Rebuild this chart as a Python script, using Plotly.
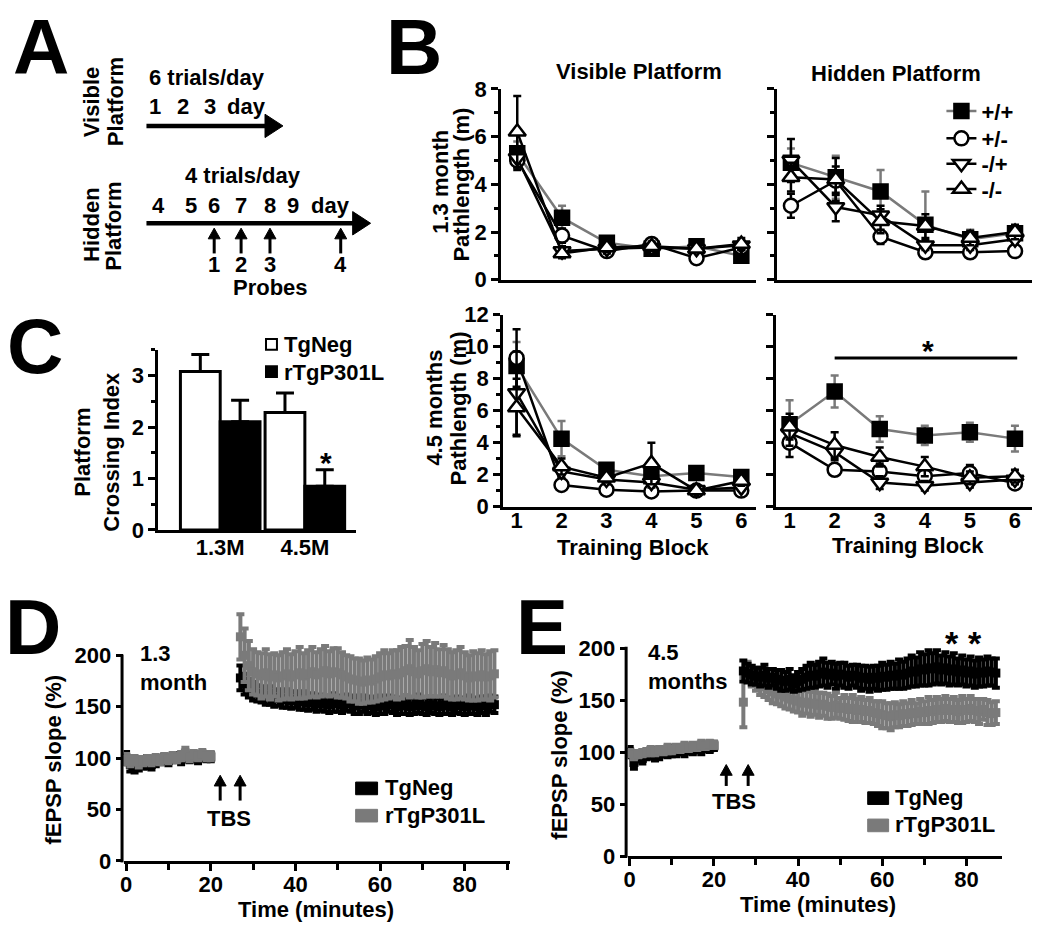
import plotly.graph_objects as go

W, H = 1050, 945
def fx(p): return p / W
def fy(p): return 1 - p / H

FONT = "Liberation Sans, Arial, Helvetica, sans-serif"
GRAY = "#7a7a7a"
BLACK = "#000000"

# ---------------- data ----------------
BLOCKS = [1, 2, 3, 4, 5, 6]
BLOCK_LABELS = ["1", "2", "3", "4", "5", "6"]
GENOTYPES = ["+/+", "+/-", "-/+", "-/-"]

VIS13_PP = [5.3, 2.6, 1.55, 1.3, 1.4, 1.0]
VIS13_PM = [5.0, 1.85, 1.2, 1.5, 0.9, 1.35]
VIS13_MP = [5.1, 1.2, 1.3, 1.35, 1.3, 1.45]
VIS13_MM = [6.2, 1.1, 1.35, 1.4, 1.3, 1.5]
VIS13_PP_ERR = [0.5, 0.5, 0.2, 0.2, 0.15, 0.2]
VIS13_PM_ERR = [0.4, 0.3, 0.15, 0.2, 0.1, 0.15]
VIS13_MP_ERR = [0.4, 0.2, 0.2, 0.2, 0.15, 0.2]
VIS13_MM_ERR = [1.5, 0.2, 0.2, 0.2, 0.15, 0.25]

HID13_PP = [4.9, 4.3, 3.7, 2.3, 1.7, 1.95]
HID13_PM = [3.1, 4.15, 1.8, 1.15, 1.15, 1.2]
HID13_MP = [5.0, 3.05, 2.7, 1.45, 1.45, 1.7]
HID13_MM = [4.3, 4.2, 2.45, 2.25, 1.75, 2.0]
HID13_PP_ERR = [0.6, 0.9, 0.9, 1.4, 0.4, 0.3]
HID13_PM_ERR = [0.5, 0.6, 0.3, 0.15, 0.15, 0.15]
HID13_MP_ERR = [0.9, 0.6, 0.4, 0.2, 0.2, 0.2]
HID13_MM_ERR = [0.6, 0.9, 0.5, 0.5, 0.3, 0.3]

VIS45_PP = [8.8, 4.25, 2.3, 1.9, 2.1, 1.85]
VIS45_PM = [9.3, 1.35, 1.05, 0.95, 1.0, 1.0]
VIS45_MP = [7.1, 2.2, 1.7, 1.5, 1.05, 1.2]
VIS45_MM = [6.2, 2.5, 1.8, 2.7, 1.0, 1.6]
VIS45_PP_ERR = [1.5, 1.1, 0.4, 0.4, 0.3, 0.3]
VIS45_PM_ERR = [1.8, 0.2, 0.15, 0.15, 0.15, 0.15]
VIS45_MP_ERR = [2.6, 0.4, 0.3, 0.3, 0.2, 0.2]
VIS45_MM_ERR = [1.8, 0.5, 0.3, 1.3, 0.2, 0.3]

HID45_PP = [5.15, 7.2, 4.85, 4.45, 4.65, 4.25]
HID45_PM = [4.0, 2.3, 2.2, 1.9, 2.1, 1.45]
HID45_MP = [4.6, 3.4, 1.5, 1.3, 1.5, 1.7]
HID45_MM = [5.0, 3.85, 3.1, 2.5, 1.8, 1.9]
HID45_PP_ERR = [1.5, 1.0, 0.8, 0.6, 0.6, 0.8]
HID45_PM_ERR = [0.9, 0.3, 0.5, 0.5, 0.5, 0.3]
HID45_MP_ERR = [0.8, 0.5, 0.4, 0.3, 0.3, 0.3]
HID45_MM_ERR = [0.8, 0.8, 0.6, 0.6, 0.4, 0.4]

AGES = ["1.3M", "4.5M"]
C_TGNEG = [3.08, 2.28]
C_TGNEG_ERR = [0.33, 0.38]
C_RTG = [2.1, 0.85]
C_RTG_ERR = [0.42, 0.32]

BASE_T = [0, 1, 2, 3, 4, 5, 6, 7, 8, 9, 10, 11, 12, 13, 14, 15, 16, 17, 18, 19, 20]
POST_T = [27, 28, 29, 30, 31, 32, 33, 34, 35, 36,
          37, 38, 39, 40, 41, 42, 43, 44, 45, 46,
          47, 48, 49, 50, 51, 52, 53, 54, 55, 56,
          57, 58, 59, 60, 61, 62, 63, 64, 65, 66,
          67, 68, 69, 70, 71, 72, 73, 74, 75, 76,
          77, 78, 79, 80, 81, 82, 83, 84, 85, 86, 87]

D_TGNEG_BASE = [100, 94, 92, 93, 95, 96, 94, 97, 98, 99, 98, 100, 101, 99, 102, 100, 101, 100, 102, 101, 101]
D_TGNEG_BASE_ERR = [6, 7, 6, 5, 5, 6, 5, 5, 4, 4, 5, 4, 4, 5, 4, 4, 4, 5, 4, 4, 4]
D_RTG_BASE = [99, 97, 98, 96, 97, 98, 97, 99, 98, 100, 99, 101, 100, 102, 105, 101, 103, 102, 104, 102, 102]
D_RTG_BASE_ERR = [5, 5, 4, 5, 4, 4, 4, 4, 4, 4, 4, 4, 4, 4, 5, 4, 4, 4, 4, 4, 4]

D_TGNEG_POST = [178, 172, 168, 165, 163, 162, 160, 161, 158, 159,
                157, 158, 156, 157, 155, 156, 154, 155, 153, 154,
                153, 152, 154, 153, 152, 154, 153, 151, 152, 153,
                151, 152, 150, 152, 151, 153, 152, 150, 151, 152,
                150, 151, 153, 151, 150, 152, 151, 150, 152, 151,
                150, 152, 151, 150, 152, 151, 150, 152, 151, 153, 152]
D_TGNEG_POST_ERR = [12, 10, 9, 9, 8, 8, 8, 9, 8, 8,
                    8, 9, 8, 8, 8, 9, 8, 8, 8, 8,
                    8, 8, 9, 8, 8, 8, 8, 8, 9, 8,
                    8, 8, 8, 9, 8, 8, 8, 8, 8, 9,
                    8, 8, 9, 8, 8, 8, 8, 8, 9, 8,
                    8, 8, 8, 8, 9, 8, 8, 8, 9, 8, 8]
D_RTG_POST = [218, 200, 190, 184, 182, 180, 183, 179, 181, 178,
              180, 182, 179, 181, 183, 180, 182, 184, 181, 183,
              185, 182, 184, 183, 181, 179, 177, 176, 175, 174,
              176, 175, 177, 179, 181, 180, 182, 181, 183, 185,
              187, 184, 182, 185, 187, 184, 186, 183, 185, 182,
              180, 181, 183, 180, 178, 180, 179, 181, 179, 180, 182]
D_RTG_POST_ERR = [22, 26, 24, 22, 21, 22, 23, 22, 21, 22,
                  23, 24, 22, 23, 25, 22, 23, 24, 22, 23,
                  24, 22, 23, 24, 22, 21, 22, 21, 22, 21,
                  22, 21, 22, 23, 24, 22, 23, 24, 25, 24,
                  28, 24, 23, 26, 27, 24, 26, 23, 25, 24,
                  23, 24, 25, 23, 22, 24, 23, 24, 22, 24, 23]

E_TGNEG_BASE = [100, 90, 96, 94, 97, 99, 96, 98, 100, 99, 101, 100, 102, 101, 103, 102, 104, 103, 105, 104, 106]
E_TGNEG_BASE_ERR = [5, 6, 5, 5, 4, 5, 4, 5, 4, 4, 5, 4, 4, 5, 4, 4, 4, 5, 4, 4, 4]
E_RTG_BASE = [99, 97, 98, 99, 100, 101, 100, 102, 101, 103, 102, 104, 103, 105, 104, 106, 105, 107, 106, 108, 107]
E_RTG_BASE_ERR = [3, 4, 3, 3, 3, 4, 3, 3, 3, 4, 3, 3, 3, 4, 3, 3, 3, 4, 3, 3, 3]

E_TGNEG_POST = [178, 176, 174, 173, 172, 174, 171, 172, 170, 169,
                168, 170, 166, 168, 170, 172, 174, 173, 175, 177,
                174, 176, 173, 175, 174, 172, 174, 173, 171, 172,
                170, 172, 171, 173, 172, 174, 173, 175, 174, 176,
                178, 177, 180, 179, 181, 180, 182, 179, 181, 178,
                180, 177, 179, 176, 178, 175, 177, 176, 178, 177, 176]
E_TGNEG_POST_ERR = [10, 9, 9, 8, 9, 10, 9, 8, 9, 10,
                    9, 10, 8, 9, 10, 11, 12, 11, 12, 13,
                    12, 11, 12, 11, 12, 11, 10, 11, 12, 11,
                    12, 11, 12, 13, 12, 13, 12, 14, 13, 14,
                    15, 14, 16, 15, 17, 15, 16, 14, 15, 14,
                    15, 13, 14, 13, 14, 13, 14, 13, 14, 13, 14]
E_RTG_POST = [148, 178, 172, 168, 165, 163, 160, 158, 156, 155,
              153, 151, 150, 149, 147, 148, 146, 147, 145, 146,
              144, 143, 145, 142, 143, 141, 142, 140, 141, 139,
              140, 138, 137, 136, 135, 134, 136, 135, 137, 136,
              138, 137, 139, 138, 140, 139, 141, 140, 142, 140,
              141, 139, 141, 140, 142, 140, 139, 141, 138, 137, 138]
E_RTG_POST_ERR = [24, 9, 9, 9, 10, 10, 10, 11, 10, 11,
                  11, 10, 11, 11, 12, 11, 12, 11, 12, 11,
                  12, 11, 12, 10, 12, 11, 13, 11, 12, 11,
                  12, 11, 12, 13, 12, 13, 12, 11, 12, 11,
                  12, 10, 12, 11, 13, 11, 12, 11, 12, 11,
                  12, 11, 13, 11, 12, 11, 12, 10, 12, 11, 11]

# ---------------- figure ----------------
fig = go.Figure()

STYLE = {
    "+/+": dict(symbol="square", fill=BLACK, line=GRAY, size=14, legend="legend"),
    "+/-": dict(symbol="circle", fill="white", line=BLACK, size=14, legend="legend2"),
    "-/+": dict(symbol="triangle-down", fill="white", line=BLACK, size=15, legend="legend3"),
    "-/-": dict(symbol="triangle-up", fill="white", line=BLACK, size=15, legend="legend4"),
}

def add_b(ax, series, show_legend):
    for g, (vals, errs) in zip(GENOTYPES, series):
        st = STYLE[g]
        fig.add_trace(go.Scatter(
            x=BLOCKS, y=vals, mode="lines+markers", name=g,
            line=dict(color=st["line"], width=2.5),
            marker=dict(symbol=st["symbol"], size=st["size"], color=st["fill"],
                        line=dict(color=BLACK, width=2.5)),
            error_y=dict(type="data", array=errs, color=st["line"], thickness=2.5, width=4),
            xaxis="x" + ax, yaxis="y" + ax, showlegend=show_legend, legend=st["legend"],
            cliponaxis=False))

add_b("", [(VIS13_PP, VIS13_PP_ERR), (VIS13_PM, VIS13_PM_ERR), (VIS13_MP, VIS13_MP_ERR), (VIS13_MM, VIS13_MM_ERR)], True)
add_b("2", [(HID13_PP, HID13_PP_ERR), (HID13_PM, HID13_PM_ERR), (HID13_MP, HID13_MP_ERR), (HID13_MM, HID13_MM_ERR)], False)
add_b("3", [(VIS45_PP, VIS45_PP_ERR), (VIS45_PM, VIS45_PM_ERR), (VIS45_MP, VIS45_MP_ERR), (VIS45_MM, VIS45_MM_ERR)], False)
add_b("4", [(HID45_PP, HID45_PP_ERR), (HID45_PM, HID45_PM_ERR), (HID45_MP, HID45_MP_ERR), (HID45_MM, HID45_MM_ERR)], False)

fig.add_trace(go.Bar(x=AGES, y=C_TGNEG, name="TgNeg", marker=dict(color="white", line=dict(color=BLACK, width=3)),
                     error_y=dict(type="data", array=C_TGNEG_ERR, arrayminus=[0, 0], symmetric=False,
                                  color=BLACK, thickness=3, width=9),
                     xaxis="x5", yaxis="y5", showlegend=False))
fig.add_trace(go.Bar(x=AGES, y=C_RTG, name="rTgP301L", marker=dict(color=BLACK, line=dict(color=BLACK, width=3)),
                     error_y=dict(type="data", array=C_RTG_ERR, arrayminus=[0, 0], symmetric=False,
                                  color=BLACK, thickness=3, width=9),
                     xaxis="x5", yaxis="y5", showlegend=False))

def add_ltp(ax, t, vals, errs, color):
    fig.add_trace(go.Scatter(
        x=t, y=vals, mode="markers",
        marker=dict(symbol="square", size=9, color=color, line=dict(width=0)),
        error_y=dict(type="data", array=errs, color=color, thickness=4, width=4),
        xaxis="x" + ax, yaxis="y" + ax, showlegend=False, cliponaxis=False))

add_ltp("6", BASE_T, D_TGNEG_BASE, D_TGNEG_BASE_ERR, BLACK)
add_ltp("6", BASE_T, D_RTG_BASE, D_RTG_BASE_ERR, GRAY)
add_ltp("6", POST_T, D_TGNEG_POST, D_TGNEG_POST_ERR, BLACK)
add_ltp("6", POST_T, D_RTG_POST, D_RTG_POST_ERR, GRAY)

add_ltp("7", BASE_T, E_TGNEG_BASE, E_TGNEG_BASE_ERR, BLACK)
add_ltp("7", BASE_T, E_RTG_BASE, E_RTG_BASE_ERR, GRAY)
add_ltp("7", POST_T, E_RTG_POST, E_RTG_POST_ERR, GRAY)
add_ltp("7", POST_T, E_TGNEG_POST, E_TGNEG_POST_ERR, BLACK)

# ---------------- axes ----------------
TF = dict(family=FONT, size=22, color=BLACK, weight="bold")
BASE_AX = dict(showline=True, linecolor=BLACK, linewidth=3, showgrid=False, zeroline=False,
               tickcolor=BLACK, tickwidth=3, tickfont=TF)

def xax(d0, d1, rng, anchor, labels):
    a = dict(BASE_AX, domain=[fx(d0), fx(d1)], range=rng, anchor=anchor, ticks="")
    if labels:
        a.update(tickmode="array", tickvals=BLOCKS, ticktext=BLOCK_LABELS, showticklabels=True,
                 ticklabelstandoff=-8)
    else:
        a.update(showticklabels=False)
    return a

def yax(p0, p1, rng, anchor, dtick, labels, minor):
    a = dict(BASE_AX, domain=[fy(p0), fy(p1)], range=rng, anchor=anchor, ticks="outside",
             ticklen=7, dtick=dtick, tick0=0, showticklabels=labels)
    if minor:
        a["minor"] = dict(dtick=minor, ticks="outside", ticklen=4, tickwidth=3, tickcolor=BLACK)
    return a

layout_axes = dict(
    xaxis=xax(499, 755, [0.64, 6.33], "y", False),
    yaxis=yax(275, 79, [0, 8], "x", 2, True, 1),
    xaxis2=xax(776, 1032, [0.69, 6.38], "y2", False),
    yaxis2=yax(275, 79, [0, 8], "x2", 2, False, 1),
    xaxis3=xax(501, 755, [0.7, 6.33], "y3", True),
    yaxis3=yax(508, 311, [0, 12], "x3", 2, True, 1),
    xaxis4=xax(775, 1032, [0.7, 6.38], "y4", True),
    yaxis4=yax(508, 311, [0, 12], "x4", 2, False, None),
    xaxis5=dict(BASE_AX, domain=[fx(155), fx(353)], type="category", categoryorder="array",
                categoryarray=AGES, range=[-0.73, 1.6], anchor="y5", ticks="", ticklabelstandoff=-4),
    yaxis5=yax(532, 347, [0, 3.5], "x5", 1, True, 0.5),
    xaxis6=dict(BASE_AX, domain=[fx(120), fx(508)], range=[-0.6, 90.7], anchor="y6", ticks="outside",
                ticklen=7, dtick=20, tick0=0, ticklabelstandoff=-5,
                minor=dict(dtick=10, ticks="outside", ticklen=6, tickwidth=3, tickcolor=BLACK)),
    yaxis6=dict(BASE_AX, domain=[fy(872), fy(608)], range=[0, 250], anchor="x6", showline=False,
                ticks="outside", ticklen=7, tickmode="array", tickvals=[0, 50, 100, 150, 200]),
    xaxis7=dict(BASE_AX, domain=[fx(626), fx(1002)], range=[-0.5, 88.5], anchor="y7", ticks="outside",
                ticklen=7, dtick=20, tick0=0, ticklabelstandoff=-5,
                minor=dict(dtick=10, ticks="outside", ticklen=6, tickwidth=3, tickcolor=BLACK)),
    yaxis7=dict(BASE_AX, domain=[fy(867), fy(600)], range=[0, 250], anchor="x7", showline=False,
                ticks="outside", ticklen=7, tickmode="array", tickvals=[0, 50, 100, 150, 200]),
)

# ---------------- annotations & shapes ----------------
ann = []
shapes = []

def txt(x, y, s, size=22, angle=0, xa="center"):
    ann.append(dict(x=fx(x), y=fy(y), xref="paper", yref="paper", text=s, showarrow=False,
                    textangle=angle, xanchor=xa, yanchor="middle", align="left" if xa == "left" else "center",
                    font=dict(family=FONT, size=size, color=BLACK, weight="bold")))

def line(x0, y0, x1, y1, w=3, color=BLACK):
    shapes.append(dict(type="line", xref="paper", yref="paper", x0=fx(x0), y0=fy(y0), x1=fx(x1), y1=fy(y1),
                       line=dict(color=color, width=w)))

def tri(points, color=BLACK):
    path = "M " + " L ".join(f"{fx(a)} {fy(b)}" for a, b in points) + " Z"
    shapes.append(dict(type="path", xref="paper", yref="paper", path=path, fillcolor=color,
                       line=dict(color=color, width=1)))

def rect(x0, y0, x1, y1, fill, lc=BLACK, w=2):
    shapes.append(dict(type="rect", xref="paper", yref="paper", x0=fx(x0), y0=fy(y0), x1=fx(x1), y1=fy(y1),
                       fillcolor=fill, line=dict(color=lc, width=w)))

def up_arrow(x, tip, base, hw=6, hl=11, w=3):
    line(x, base, x, tip + hl - 1, w)
    tri([(x - hw, tip + hl), (x, tip), (x + hw, tip + hl)])

# panel letters
txt(37, 36, "A", 78)
txt(412, 36, "B", 78)
txt(31, 343, "C", 78)
txt(29, 632, "D", 78)
txt(540, 632, "E", 78)

# Panel A schematic
txt(88, 92, "Visible", 22, -90)
txt(112, 92, "Platform", 22, -90)
txt(204, 67, "6 trials/day")
for xx, s in [(152, "1"), (180, "2"), (207, "3"), (243, "day")]:
    txt(xx, 97, s)
line(143, 117, 264, 117, 4.5)
tri([(262, 105), (280, 117), (262, 129)])

txt(88, 218, "Hidden", 22, -90)
txt(110, 220, "Platform", 22, -90)
txt(240, 168, "4 trials/day")
for xx, s in [(155, "4"), (188, "5"), (211, "6"), (238, "7"), (267, "8"), (290, "9"), (328, "day")]:
    txt(xx, 199, s)
line(143, 217, 352, 217, 4.5)
tri([(350, 205), (368, 217), (350, 229)])
for xx, s in [(211, "1"), (238, "2"), (267, "3"), (338, "4")]:
    up_arrow(xx, 222, 248)
    txt(xx, 259, s)
txt(268, 283, "Probes")

# Panel B texts
txt(637, 61, "Visible Platform")
txt(895, 63, "Hidden Platform")
txt(438, 174, "1.3 month", 22, -90)
txt(459, 177, "Pathlength (m)", 22, -90)
txt(432, 406, "4.5 months", 22, -90)
txt(456, 407, "Pathlength (m)", 22, -90)
txt(631, 550, "Training Block")
txt(907, 548, "Training Block")
shapes.append(dict(type="line", xref="x4", yref="y4", x0=2, x1=6.05, y0=9.3, y1=9.3,
                   line=dict(color=BLACK, width=3)))
txt(928, 348, "*", 30)

# Panel C texts
txt(78, 452, "Platform", 22, -90)
txt(107, 452, "Crossing Index", 22, -90)
rect(263, 336, 274, 347, "white", BLACK, 2)
txt(279, 342, "TgNeg", 22, 0, "left")
rect(263, 364, 274, 375, BLACK, BLACK, 2)
txt(279, 370, "rTgP301L", 22, 0, "left")
txt(323, 463, "*", 30)

# Panel D texts
txt(50, 768, "fEPSP slope (%)", 22, -90)
txt(313, 922, "Time (minutes)")
txt(135, 674, "1.3<br>month", 22, 0, "left")
line(118.5, 873.5, 118.5, 660, 3)
up_arrow(217, 784, 810)
up_arrow(237, 784, 810)
txt(226, 828, "TBS")
rect(353, 791, 375, 804, BLACK, BLACK, 1)
txt(380, 797, "TgNeg", 22, 0, "left")
rect(353, 819, 375, 832, GRAY, GRAY, 1)
txt(380, 825, "rTgP301L", 22, 0, "left")

# Panel E texts
txt(558, 763, "fEPSP slope (%)", 22, -90)
txt(817, 917, "Time (minutes)")
txt(644, 673, "4.5<br>months", 22, 0, "left")
line(624.5, 868.5, 624.5, 652, 3)
up_arrow(725, 773, 795)
up_arrow(747, 773, 795)
txt(733, 811, "TBS")
rect(867, 801, 888, 814, BLACK, BLACK, 1)
txt(892, 807, "TgNeg", 22, 0, "left")
rect(867, 829, 888, 842, GRAY, GRAY, 1)
txt(892, 835, "rTgP301L", 22, 0, "left")
txt(952, 648, "*", 34)
txt(975, 648, "*", 34)

LEG_FONT = dict(family=FONT, size=22, color=BLACK, weight="bold")
def leg(y):
    return dict(x=fx(941), y=fy(y), xanchor="left", yanchor="middle", bgcolor="rgba(0,0,0,0)",
                font=LEG_FONT, itemwidth=30, borderwidth=0)

fig.update_layout(
    width=W, height=H, margin=dict(l=0, r=0, t=0, b=0),
    paper_bgcolor="white", plot_bgcolor="white",
    font=dict(family=FONT, size=22, color=BLACK, weight="bold"),
    barmode="group", bargap=0.06, bargroupgap=0,
    showlegend=True,
    legend=leg(102), legend2=leg(130), legend3=leg(156), legend4=leg(182),
    annotations=ann, shapes=shapes,
    **layout_axes,
)

fig.write_html("out.html", config={"displayModeBar": False},
               post_script="document.body.style.margin='0';")
